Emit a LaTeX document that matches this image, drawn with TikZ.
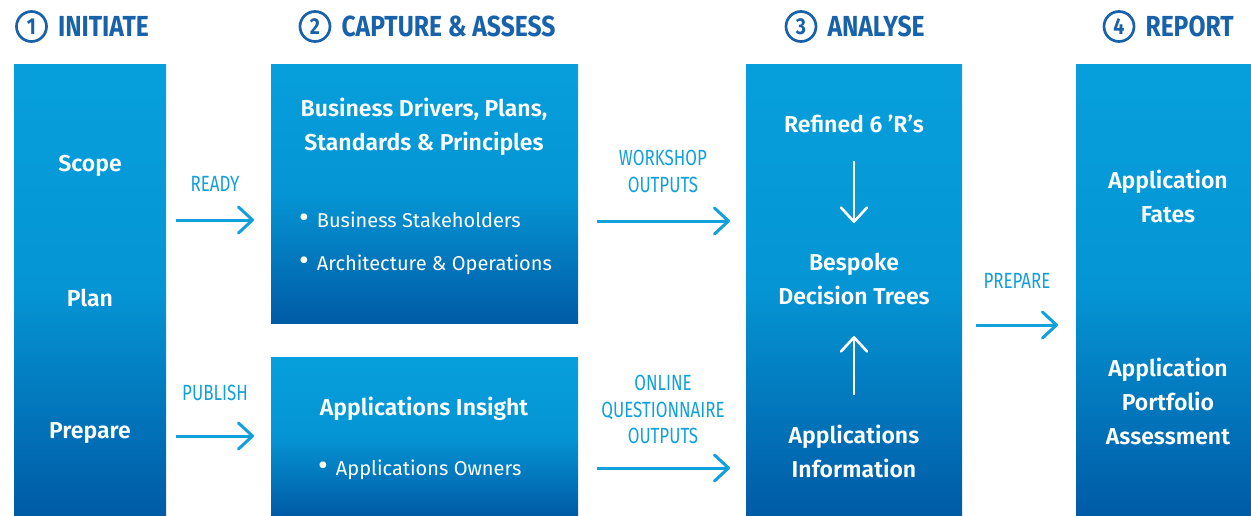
\documentclass[tikz,border=0pt]{standalone}
\usepackage{fontspec}
\setmainfont{Fira Sans}[BoldFont={Fira Sans SemiBold}]
\newfontfamily\headfont{Fira Sans}[FakeStretch=0.85]
\newfontfamily\tagfont{Fira Sans}[FakeStretch=0.77]
\usetikzlibrary{arrows.meta,positioning}
\definecolor{boxtop}{HTML}{069FDC}
\definecolor{boxbot}{HTML}{005BA6}
\definecolor{headblue}{HTML}{1862AC}
\definecolor{flowblue}{HTML}{11A0DC}
\tikzset{
	stage/.style={rectangle,inner sep=0pt,outer sep=0pt,anchor=north west,top color=boxtop,bottom color=boxbot,middle color=boxtop!85!boxbot},
	numring/.style={circle,draw=headblue,line width=2.7pt,minimum size=30pt,inner sep=0pt,text=headblue,font=\headfont\bfseries\fontsize{23}{23}\selectfont},
	heading/.style={inner sep=0pt,text=headblue,font=\headfont\bfseries\fontsize{29}{29}\selectfont},
	boxtext/.style={inner sep=0pt,align=center,text=white,font=\bfseries\fontsize{23}{34}\selectfont},
	bullets/.style={inner sep=0pt,align=left,anchor=west,text=white,font=\fontsize{20}{43}\selectfont},
	tag/.style={inner sep=0pt,align=center,text=flowblue,font=\tagfont\fontsize{22}{26.5}\selectfont},
	flow/.style={draw=flowblue,line width=3pt,-{Straight Barb[length=14pt,width=26pt,line width=3pt,round]}},
	inflow/.style={draw=white,line width=2.6pt,-{Straight Barb[length=14pt,width=26pt,line width=2.6pt,round]}}
}
\newcommand{\bul}{{\fontsize{30}{20}\selectfont\textbullet}\hspace{8pt}}
\begin{document}
\begin{tikzpicture}[x=1pt,y=-1pt]
	\useasboundingbox (0,0) rectangle (1251,515);
	% stage boxes
	\node[stage,minimum width=152pt,minimum height=451pt] (initiate) at (14,64) {};
	\node[stage,minimum width=307pt,minimum height=259pt] (capture) at (271,64) {};
	\node[stage,minimum width=307pt,minimum height=158pt] (insight) at (271,357) {};
	\node[stage,minimum width=216pt,minimum height=451pt] (analyse) at (746,64) {};
	\node[stage,minimum width=175pt,minimum height=451pt] (report) at (1076,64) {};
	
	% headings
	\node[numring] (n1) at (31.5,26.5) {1};
	\node[heading,right=10pt of n1] (h1) {INITIATE};
	\node[numring] (n2) at (315,26.5) {2};
	\node[heading,right=10pt of n2] (h2) {CAPTURE \& ASSESS};
	\node[numring] (n3) at (801,26.5) {3};
	\node[heading,right=10pt of n3] (h3) {ANALYSE};
	\node[numring] (n4) at (1119,26.5) {4};
	\node[heading,right=10pt of n4] (h4) {REPORT};
	
	% initiate
	\node[boxtext] (scope) at (90,166) {Scope};
	\node[boxtext] (plan) at (90,298) {Plan};
	\node[boxtext] (prepare) at (90,433) {Prepare};
	
	% capture & assess
	\node[boxtext] (drivers) at (424,127) {Business Drivers, Plans,\\Standards \& Principles};
	\node[bullets] (people) at (299,243) {\bul Business Stakeholders\\\bul Architecture \& Operations};
	\node[boxtext] (apps) at (424,409) {Applications Insight};
	\node[bullets] (owners) at (318,470) {\bul Applications Owners};
	
	% analyse
	\node[boxtext] (refined) at (854,124) {Refined 6 ’R’s};
	\node[boxtext] (bespoke) at (854,279) {Bespoke\\Decision Trees};
	\node[boxtext] (appinfo) at (854,451) {Applications\\Information};
	\draw[inflow,shorten <=28pt,shorten >=30pt] (refined) -- (bespoke);
	\draw[inflow,shorten <=29pt,shorten >=31pt] (appinfo) -- (bespoke);
	
	% report
	\node[boxtext] (fates) at (1168,196) {Application\\Fates};
	\node[boxtext] (portfolio) at (1168,401) {Application\\Portfolio\\Assessment};
	
	% hand-overs
	\node[tag] (ready) at (215,184) {READY};
	\node[tag] (publish) at (215,393) {PUBLISH};
	\node[tag] (workshop) at (663,171.5) {WORKSHOP\\OUTPUTS};
	\node[tag] (online) at (663,409.5) {ONLINE\\QUESTIONNAIRE\\OUTPUTS};
	\node[tag] (prep) at (1017,281) {PREPARE};
	\coordinate (ready-a) at (176,220); \coordinate (ready-b) at (254,220);
	\coordinate (publish-a) at (176,436); \coordinate (publish-b) at (254,436);
	\coordinate (workshop-a) at (597,221); \coordinate (workshop-b) at (730,221);
	\coordinate (online-a) at (597,468); \coordinate (online-b) at (730,468);
	\coordinate (prep-a) at (976,325); \coordinate (prep-b) at (1058,325);
	\draw[flow] (ready-a) -- (ready-b);
	\draw[flow] (publish-a) -- (publish-b);
	\draw[flow] (workshop-a) -- (workshop-b);
	\draw[flow] (online-a) -- (online-b);
	\draw[flow] (prep-a) -- (prep-b);
\end{tikzpicture}
\end{document}
